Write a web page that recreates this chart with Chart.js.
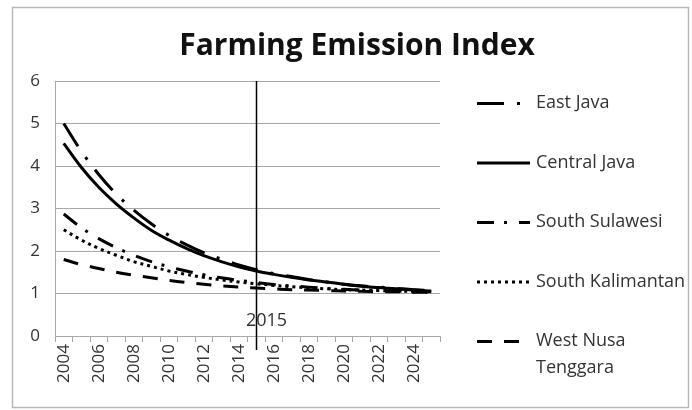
<!DOCTYPE html>
<html>
<head>
<meta charset="utf-8">
<title>Farming Emission Index</title>
<script src="https://cdn.jsdelivr.net/npm/chart.js@4/dist/chart.umd.min.js"></script>
<style>
  html, body { margin: 0; padding: 0; background: #fff; }
  #wrap { width: 692px; height: 410px; }
</style>
</head>
<body>
<div id="wrap"><canvas id="chart" width="692" height="410"></canvas></div>
<script>
// Years on the category axis
const years = ['2004','2005','2006','2007','2008','2009','2010','2011','2012','2013','2014',
               '2015','2016','2017','2018','2019','2020','2021','2022','2023','2024','2025'];

// Emission index per province
const eastJava        = [5.00, 4.35, 3.80, 3.34, 2.96, 2.64, 2.37, 2.15, 1.96, 1.81, 1.67,
                         1.56, 1.47, 1.40, 1.33, 1.27, 1.22, 1.18, 1.15, 1.12, 1.09, 1.07];
const centralJava     = [4.53, 3.97, 3.50, 3.11, 2.78, 2.49, 2.26, 2.06, 1.89, 1.75, 1.63,
                         1.53, 1.45, 1.38, 1.32, 1.27, 1.22, 1.17, 1.14, 1.11, 1.08, 1.06];
const southSulawesi   = [2.87, 2.55, 2.29, 2.08, 1.90, 1.75, 1.63, 1.53, 1.44, 1.37, 1.31,
                         1.26, 1.21, 1.18, 1.15, 1.12, 1.10, 1.08, 1.07, 1.06, 1.05, 1.04];
const southKalimantan = [2.50, 2.26, 2.06, 1.90, 1.75, 1.64, 1.53, 1.45, 1.38, 1.32, 1.27,
                         1.23, 1.19, 1.16, 1.13, 1.11, 1.09, 1.08, 1.07, 1.06, 1.05, 1.04];
const westNusa        = [1.80, 1.68, 1.59, 1.50, 1.43, 1.37, 1.31, 1.26, 1.22, 1.18, 1.15,
                         1.13, 1.11, 1.09, 1.08, 1.07, 1.06, 1.05, 1.04, 1.04, 1.03, 1.03];

const seriesNames = ['East Java', 'Central Java', 'South Sulawesi', 'South Kalimantan', ['West Nusa', 'Tenggara']];
const markerYear = '2015';
const chartTitle = 'Farming Emission Index';

const yTicks = [0, 1, 2, 3, 4, 5, 6];

const gridGrey = '#a8a8a8';
const textGrey = '#333';

function series(label, data, dash, width) {
  return {
    label: label,
    data: data,
    borderColor: '#000',
    backgroundColor: '#000',
    borderWidth: width,
    borderDash: dash,
    borderCapStyle: 'butt',
    pointRadius: 0,
    pointHoverRadius: 0,
    tension: 0.35,
    fill: false
  };
}

const datasets = [
  series(seriesNames[0], eastJava,        [27, 13, 3, 13], 3),
  series(seriesNames[1], centralJava,     [],              3),
  series(seriesNames[2], southSulawesi,   [17, 10, 3, 12], 3),
  series(seriesNames[3], southKalimantan, [3, 4],          3),
  series(seriesNames[4], westNusa,        [15, 12],        3)
];

// Frame, title, year marker and the side legend
const decorations = {
  id: 'decorations',
  beforeDraw(chart) {
    const ctx = chart.ctx;
    ctx.save();
    ctx.fillStyle = '#fff';
    ctx.fillRect(0, 0, chart.width, chart.height);
    ctx.strokeStyle = '#b8b8b8';
    ctx.lineWidth = 1.5;
    ctx.strokeRect(12.5, 7.5, chart.width - 16, chart.height - 10);
    ctx.restore();
  },
  afterDatasetsDraw(chart) {
    const ctx = chart.ctx;
    const x = chart.scales.x;
    const area = chart.chartArea;
    const px = Math.round(x.getPixelForValue(years.indexOf(markerYear))) + 0.5;
    ctx.save();
    ctx.strokeStyle = '#000';
    ctx.lineWidth = 1.5;
    ctx.beginPath();
    ctx.moveTo(px, area.top);
    ctx.lineTo(px, area.bottom + 14);
    ctx.stroke();
    ctx.fillStyle = '#333';
    ctx.font = '18px "Open Sans", sans-serif';
    ctx.textAlign = 'center';
    ctx.textBaseline = 'middle';
    ctx.fillText(markerYear, px + 10, area.bottom - 15);
    ctx.restore();
  },
  afterDraw(chart) {
    const ctx = chart.ctx;
    const area = chart.chartArea;
    ctx.save();
    // title
    ctx.fillStyle = '#111';
    ctx.font = 'bold 30px "Open Sans", sans-serif';
    ctx.textAlign = 'center';
    ctx.textBaseline = 'middle';
    ctx.fillText(chartTitle, 357, 46);

    // legend
    const sx0 = area.right + 37;
    const sx1 = sx0 + 53;
    const tx = sx1 + 6;
    ctx.font = '18px "Open Sans", sans-serif';
    ctx.textAlign = 'left';
    chart.data.datasets.forEach((ds, i) => {
      const y = area.top + 22 + i * 59.5;
      ctx.strokeStyle = ds.borderColor;
      ctx.lineWidth = ds.borderWidth;
      ctx.lineCap = 'butt';
      ctx.setLineDash(ds.borderDash);
      ctx.beginPath();
      ctx.moveTo(sx0, y + 0.5);
      ctx.lineTo(sx1, y + 0.5);
      ctx.stroke();
      ctx.setLineDash([]);
      ctx.fillStyle = '#333';
      const lines = Array.isArray(ds.label) ? ds.label : [ds.label];
      lines.forEach((t, k) => ctx.fillText(t, tx, y + k * 27));
    });
    ctx.restore();
  }
};

new Chart(document.getElementById('chart'), {
  type: 'line',
  data: { labels: years, datasets: datasets },
  options: {
    responsive: false,
    animation: false,
    devicePixelRatio: 1,
    layout: { padding: { top: 81, left: 0, right: 252, bottom: 14 } },
    plugins: {
      legend: { display: false },
      title: { display: false },
      tooltip: { enabled: false }
    },
    scales: {
      x: {
        type: 'category',
        offset: true,
        grid: { offset: true, drawOnChartArea: false, tickLength: 6, color: gridGrey, lineWidth: 1 },
        border: { color: gridGrey, width: 1 },
        ticks: {
          autoSkip: false,
          maxRotation: 90,
          minRotation: 90,
          padding: 2,
          color: textGrey,
          font: { family: '"Open Sans", sans-serif', size: 17 },
          callback: (v, i) => (i % 2 === 0 ? years[i] : '')
        },
        afterFit(scale) { scale.height = 60; }
      },
      y: {
        min: yTicks[0],
        max: yTicks[yTicks.length - 1],
        afterBuildTicks(scale) { scale.ticks = yTicks.map(v => ({ value: v })); },
        grid: { color: gridGrey, lineWidth: 1, drawTicks: false },
        border: { color: gridGrey, width: 1 },
        ticks: {
          padding: 15,
          color: textGrey,
          font: { family: '"Open Sans", sans-serif', size: 17 }
        },
        afterFit(scale) { scale.width = 55; }
      }
    }
  },
  plugins: [decorations]
});
</script>
</body>
</html>
